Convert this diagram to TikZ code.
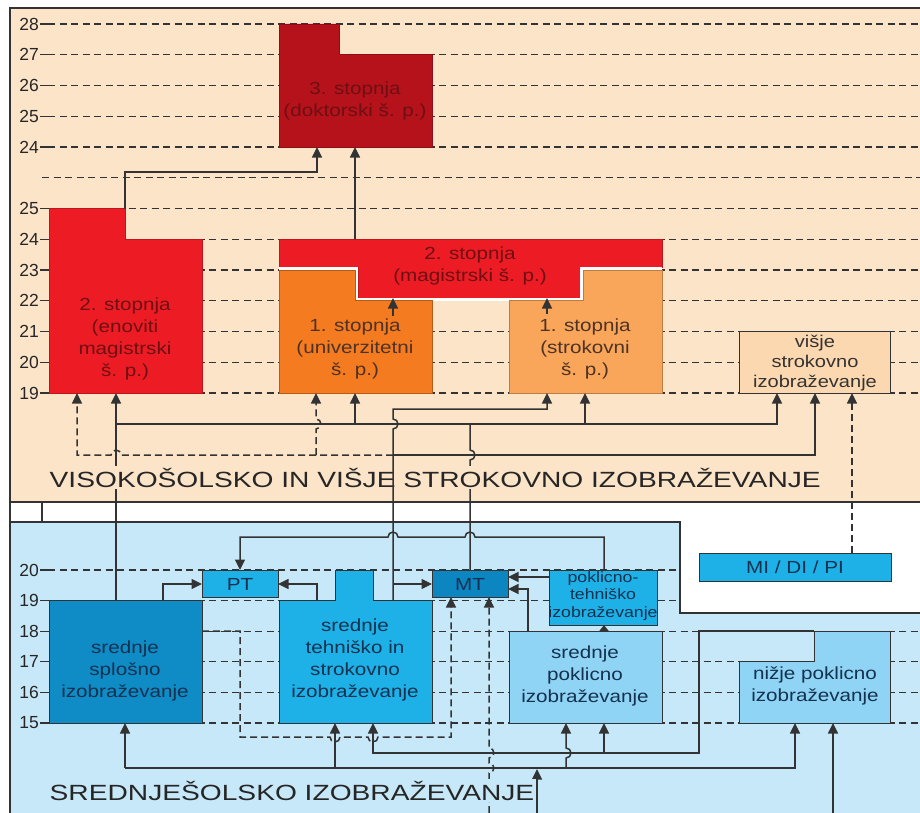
\documentclass[tikz,border=0pt]{standalone}
\usepackage{fontspec}
\setmainfont{Liberation Sans}
\newfontfamily\boxfont[FakeStretch=1.18]{Liberation Sans}
\newfontfamily\titlefont[FakeStretch=1.28]{Liberation Sans}
\usetikzlibrary{arrows.meta}
\definecolor{peach}{HTML}{FCE4C9}
\definecolor{ltblue}{HTML}{C7E8F8}
\definecolor{drkred}{HTML}{B5121B}
\definecolor{redb}{HTML}{ED1C24}
\definecolor{orng}{HTML}{F47B20}
\definecolor{lorng}{HTML}{F9A65A}
\definecolor{vish}{HTML}{FCD8B0}
\definecolor{splb}{HTML}{0F8BC6}
\definecolor{tehb}{HTML}{1DB1E8}
\definecolor{mtb}{HTML}{0B86C1}
\definecolor{poklb}{HTML}{8FD4F4}
\definecolor{lnc}{HTML}{333333}
\definecolor{redtxt}{HTML}{6E0F13}
\definecolor{ortxt}{HTML}{4E3226}
\definecolor{bltxt}{HTML}{14324F}
\tikzset{
  gridline/.style={draw=lnc, line width=1.05bp, dash pattern=on 7bp off 4.5bp},
  tickline/.style={draw=lnc, line width=1.05bp},
  frameline/.style={draw=lnc, line width=1.1bp},
  conn/.style={draw=lnc, line width=1.5bp},
  dconn/.style={conn, dash pattern=on 7bp off 4bp},
  arr/.style={conn, -{Triangle[width=10bp,length=10.5bp]}},
  darr/.style={dconn, -{Triangle[width=10bp,length=10.5bp]}},
  sarr/.style={conn, -{Triangle[width=9bp,length=6bp]}},
  boxline/.style={draw=lnc, line width=0.9bp},
  numlab/.style={anchor=east, inner sep=0pt, text=black!85, font=\fontsize{17.5bp}{17.5bp}\selectfont},
  btxt/.style={font=\boxfont\fontsize{17.5bp}{22bp}\selectfont, align=center, inner sep=0pt},
  stxt/.style={font=\boxfont\fontsize{15bp}{17.5bp}\selectfont, align=center, inner sep=0pt},
  titletxt/.style={font=\titlefont\fontsize{22bp}{22bp}\selectfont, anchor=base west, inner sep=1.5bp, text=black!85}
}
\begin{document}
\begin{tikzpicture}[x=1bp,y=-1bp]
\useasboundingbox (0,0) rectangle (920,813);
% backgrounds
\fill[white] (0,0) rectangle (920,813);
\fill[peach] (10,8) rectangle (920,502);
\fill[ltblue] (10,522) -- (680,522) -- (680,613) -- (920,613) -- (920,813) -- (10,813) -- cycle;
\draw[frameline] (10,813) -- (10,8) -- (920,8);
\draw[frameline] (10,502) -- (920,502);
\draw[frameline] (10,522) -- (680,522) -- (680,613) -- (920,613);
\draw[frameline] (42,502) -- (42,522);
% upper scale
\foreach \lab/\yy [count=\i] in {28/24,27/54.75,26/85.5,25/116.25,24/147,25/208.5,24/239.25,23/270,22/300.75,21/331.5,20/362.25,19/393}{
  \draw[tickline] (40,\yy) -- (48,\yy);
  \draw[gridline] (48,\yy) -- (920,\yy);
  \node[numlab] (ul\i) at (39,\yy) {\lab};
}
\draw[gridline] (42,177.75) -- (920,177.75);
% lower scale
\foreach \lab/\yy/\xe [count=\i] in {20/570/680,19/600.6/680,18/631.2/920,17/661.8/920,16/692.4/920,15/723/920}{
  \draw[tickline] (40,\yy) -- (48,\yy);
  \draw[gridline] (48,\yy) -- (\xe,\yy);
  \node[numlab] (ll\i) at (39,\yy) {\lab};
}
% ---------- upper boxes ----------
\filldraw[fill=drkred, draw=drkred!80!black, line width=0.6bp] (279,24) -- (339,24) -- (339,54.75) -- (432,54.75) -- (432,147) -- (279,147) -- cycle;
\node[btxt, text=redtxt] (dokt) at (355,101) {3. stopnja\\(doktorski š. p.)};
\filldraw[fill=redb, draw=redb!80!black, line width=0.6bp] (49,208.5) -- (125,208.5) -- (125,239.25) -- (202,239.25) -- (202,393) -- (49,393) -- cycle;
\node[btxt, text=redtxt] (enov) at (125,339) {2. stopnja\\(enoviti\\magistrski\\š. p.)};
\filldraw[fill=redb, draw=redb!80!black, line width=0.6bp] (279,239.25) -- (662,239.25) -- (662,267) -- (580,267) -- (580,298) -- (358,298) -- (358,267) -- (279,267) -- cycle;
\node[btxt, text=redtxt] (mag) at (470,266) {2. stopnja\\(magistrski š. p.)};
\draw[white, line width=2.6bp] (279,268.5) -- (356.5,268.5) -- (356.5,299.4) -- (581.5,299.4) -- (581.5,268.5) -- (662,268.5);
\filldraw[fill=orng, draw=orng!75!black, line width=0.6bp] (279,270) -- (355,270) -- (355,300.75) -- (432,300.75) -- (432,393) -- (279,393) -- cycle;
\node[btxt, text=ortxt] (univ) at (355,349) {1. stopnja\\(univerzitetni\\š. p.)};
\filldraw[fill=lorng, draw=lorng!75!black, line width=0.6bp] (509,300.75) -- (583,300.75) -- (583,270) -- (662,270) -- (662,393) -- (509,393) -- cycle;
\node[btxt, text=ortxt] (strok) at (585,349) {1. stopnja\\(strokovni\\š. p.)};
\filldraw[fill=vish, boxline] (739,331.5) rectangle (890,393);
\node[btxt, text=black!80, font=\boxfont\fontsize{17bp}{20bp}\selectfont] (visje) at (815,363) {višje\\strokovno\\izobraževanje};
% ---------- lower boxes ----------
\filldraw[fill=splb, boxline] (49,600.6) rectangle (202,723);
\node[btxt, text=bltxt] (spl) at (125,671) {srednje\\splošno\\izobraževanje};
\filldraw[fill=tehb, boxline] (279,600.6) -- (335,600.6) -- (335,570) -- (373,570) -- (373,600.6) -- (432,600.6) -- (432,723) -- (279,723) -- cycle;
\node[btxt, text=bltxt] (teh) at (355,659.5) {srednje\\tehniško in\\strokovno\\izobraževanje};
\filldraw[fill=tehb, boxline] (202,570) rectangle (278,597);
\node[btxt, text=bltxt] (pt) at (240,584) {PT};
\filldraw[fill=mtb, boxline] (432,570) rectangle (508,597);
\node[btxt, text=bltxt] (mt) at (470,584) {MT};
\filldraw[fill=tehb, boxline] (549,570) rectangle (657,625);
\node[stxt, text=bltxt] (pkt) at (603,596) {poklicno-\\tehniško\\izobraževanje};
\filldraw[fill=poklb, boxline] (509,631.2) rectangle (662,723);
\node[btxt, text=bltxt] (pok) at (585,676) {srednje\\poklicno\\izobraževanje};
\filldraw[fill=poklb, boxline] (739,661.8) -- (814,661.8) -- (814,631.2) -- (890,631.2) -- (890,723) -- (739,723) -- cycle;
\node[btxt, text=bltxt] (niz) at (815,686) {nižje poklicno\\izobraževanje};
\filldraw[fill=tehb, boxline] (699,553) rectangle (891,581);
\node[btxt, text=bltxt] (midi) at (795,567) {MI / DI / PI};
% ---------- attachment points ----------
\coordinate (enovTop) at (125,208.5);
\coordinate (doktIn1) at (317,147);
\coordinate (doktIn2) at (355,147);
\coordinate (magTop) at (355,239.25);
\coordinate (univOut) at (393,316);
\coordinate (magIn1) at (393,298);
\coordinate (strokOut) at (547,314);
\coordinate (magIn2) at (547,298);
\coordinate (enovIn1) at (77,393);
\coordinate (enovIn2) at (116,393);
\coordinate (univIn1) at (316,393);
\coordinate (univIn2) at (355,393);
\coordinate (strokIn1) at (547,393);
\coordinate (strokIn2) at (585,393);
\coordinate (visjeIn1) at (777,393);
\coordinate (visjeIn2) at (815,393);
\coordinate (visjeIn3) at (852,393);
\coordinate (midiTop) at (852,553);
\coordinate (splTop1) at (116,600.6);
\coordinate (splTop2) at (163,600.6);
\coordinate (splEast) at (202,631.2);
\coordinate (splBot) at (125,723);
\coordinate (tehTop1) at (317,600.6);
\coordinate (tehTop2) at (393,600.6);
\coordinate (tehBot1) at (335,723);
\coordinate (tehBot2) at (373,723);
\coordinate (ptTop) at (240,570);
\coordinate (ptW) at (202,584);
\coordinate (ptE) at (278,584);
\coordinate (mtTop) at (470,570);
\coordinate (mtW) at (432,584);
\coordinate (mtE1) at (508,577);
\coordinate (mtE2) at (508,589);
\coordinate (mtBot1) at (451,597);
\coordinate (mtBot2) at (489,597);
\coordinate (pktTop) at (604,570);
\coordinate (pktW) at (549,577);
\coordinate (pktBot) at (604,625);
\coordinate (pokTop1) at (528,631.2);
\coordinate (pokTop2) at (604,631.2);
\coordinate (pokBot1) at (566,723);
\coordinate (pokBot2) at (604,723);
\coordinate (nizTop) at (814,631.2);
\coordinate (nizBot1) at (795,723);
\coordinate (nizBot2) at (833,723);
\coordinate (below1) at (489,813);
\coordinate (below2) at (537,813);
\coordinate (below3) at (833,813);
\coordinate (distr) at (537,769);
% ---------- upper connectors ----------
\draw[arr] (enovTop) -- (125,172) -- (317,172) -- (doktIn1);
\draw[arr] (magTop) -- (doktIn2);
\draw[arr] (univOut) -- (magIn1);
\draw[arr] (strokOut) -- (magIn2);
\draw[arr] (splTop1) -- (enovIn2);
\draw[arr] (116,424) -- (777,424) -- (visjeIn1);
\draw[arr] (355,424) -- (univIn2);
\draw[arr] (585,424) -- (strokIn2);
\draw[conn] (mtTop) -- (470,460) arc[start angle=90,end angle=-90,radius=5] -- (470,424);
\draw[darr] (393,455) -- (121,455) arc[start angle=0,end angle=-180,radius=5] -- (77,455) -- (enovIn1);
\draw[darr] (316,455) -- (316,429) arc[start angle=90,end angle=-90,radius=5] -- (univIn1);
\draw[arr] (393,455) -- (815,455) -- (visjeIn2);
\draw[darr] (midiTop) -- (visjeIn3);
% ---------- lower connectors ----------
\draw[arr] (pktTop) -- (604,537) -- (475,537) arc[start angle=0,end angle=-180,radius=5] -- (398,537) arc[start angle=0,end angle=-180,radius=5] -- (240,537) -- (ptTop);
\draw[arr] (splTop2) -- (163,584) -- (ptW);
\draw[arr] (tehTop1) -- (317,584) -- (ptE);
\draw[arr] (pktW) -- (mtE1);
\draw[arr] (pokTop1) -- (528,589) -- (mtE2);
\draw[sarr] (pokTop2) -- (pktBot);
\draw[darr] (splEast) -- (240,631.2) -- (240,737) -- (330,737) arc[start angle=180,end angle=0,radius=5] -- (368,737) arc[start angle=180,end angle=0,radius=5] -- (451,737) -- (mtBot1);
\draw[darr] (below1) -- (489,773) arc[start angle=90,end angle=-90,radius=5] -- (489,758) arc[start angle=90,end angle=-90,radius=5] -- (mtBot2);
\draw[arr] (125,768) -- (splBot);
\draw[arr] (125,768) -- (795,768) -- (nizBot1);
\draw[arr] (335,768) -- (tehBot1);
\draw[arr] (566,768) -- (566,758) arc[start angle=90,end angle=-90,radius=5] -- (pokBot1);
\draw[arr] (below2) -- (distr);
\draw[arr] (below3) -- (nizBot2);
\draw[arr] (nizTop) -- (699,631.2) -- (699,753) -- (373,753) -- (tehBot2);
\draw[arr] (604,753) -- (pokBot2);
% ---------- region titles ----------
\node[titletxt, fill=peach] (uptitle) at (48,487) {VISOKOŠOLSKO IN VIŠJE STROKOVNO IZOBRAŽEVANJE};
\node[titletxt, fill=ltblue] (lowtitle) at (48,800) {SREDNJEŠOLSKO IZOBRAŽEVANJE};
% tehnisko connector drawn over the title
\draw[arr] (tehTop2) -- (393,429) arc[start angle=90,end angle=-90,radius=5] -- (393,409) -- (547,409) -- (strokIn1);
\draw[arr] (393,584) -- (mtW);
\end{tikzpicture}
\end{document}
